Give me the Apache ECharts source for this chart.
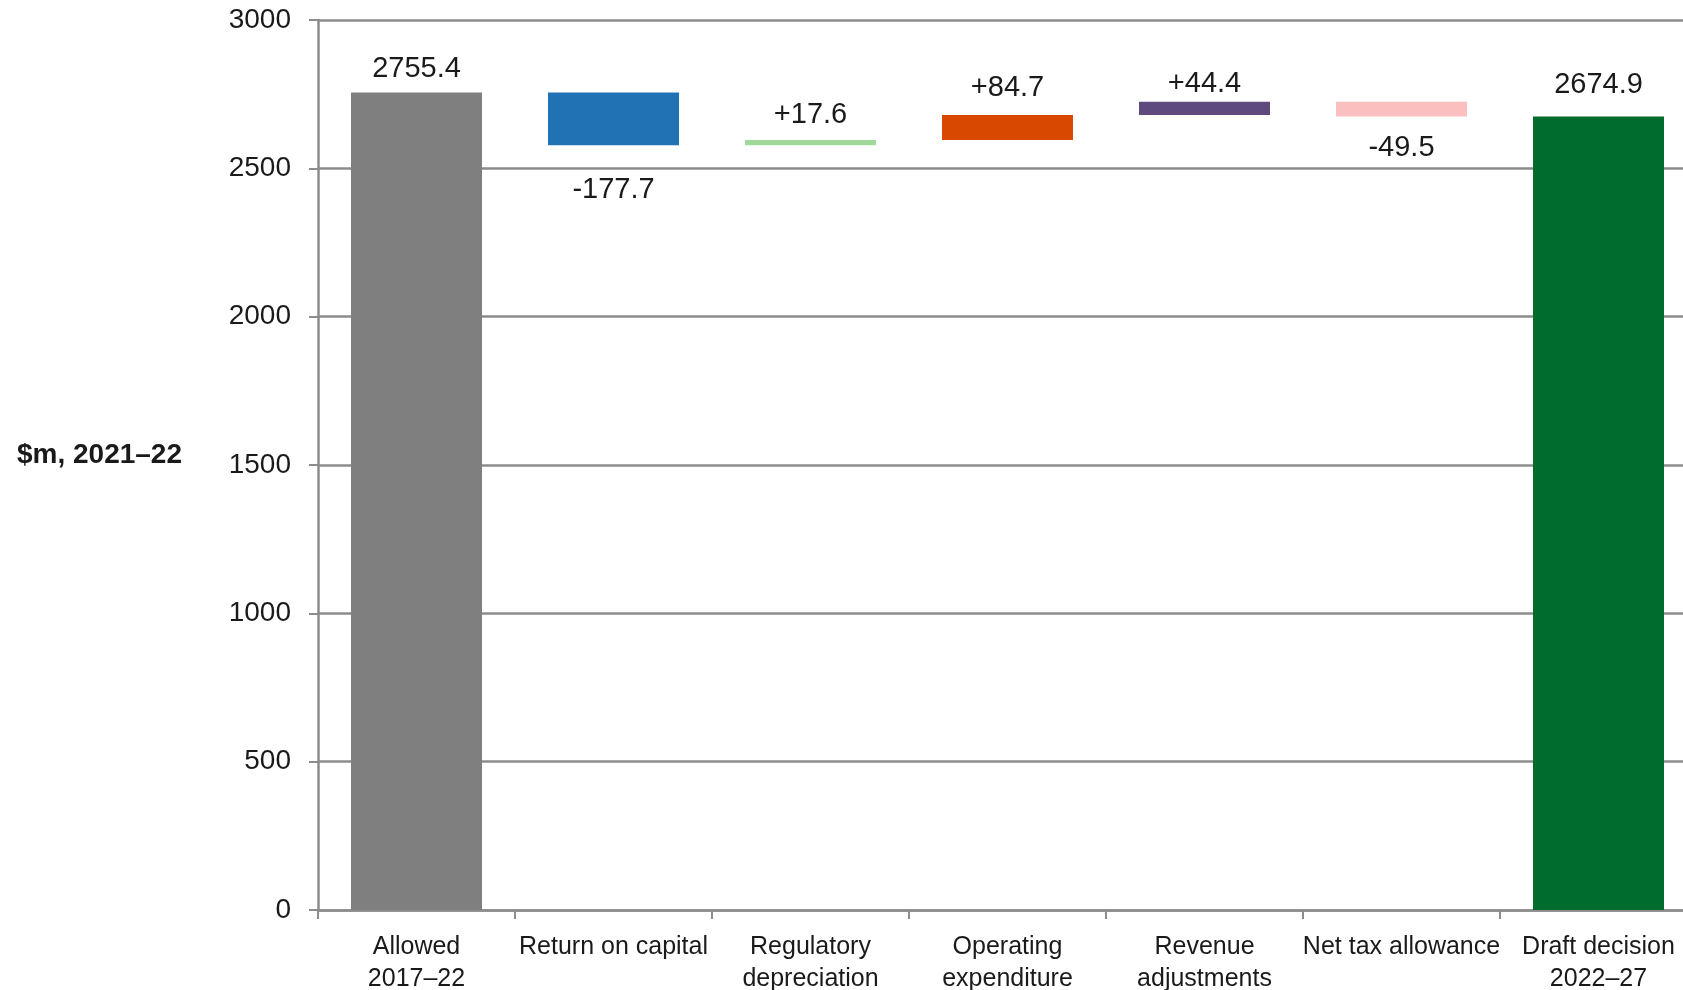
<!DOCTYPE html>
<html>
<head>
<meta charset="utf-8">
<script src="https://cdn.jsdelivr.net/npm/echarts@6/dist/echarts.min.js"></script>
<style>
  html, body { margin: 0; padding: 0; background: #ffffff; overflow: hidden; }
  #chart { width: 1700px; height: 990px; }
</style>
</head>
<body>
<div id="chart"></div>
<script>
// ---- Data ----
const categories = [
  'Allowed\n2017–22',
  'Return on capital',
  'Regulatory\ndepreciation',
  'Operating\nexpenditure',
  'Revenue\nadjustments',
  'Net tax allowance',
  'Draft decision\n2022–27'
];
const startTotal = 2755.4;
const changes = [-177.7, 17.6, 84.7, 44.4, -49.5];
const endTotal = 2674.9;
const yMin = 0, yMax = 3000, yStep = 500;
const yAxisTitle = '$m, 2021–22';

// ---- Styles (kept apart from the data) ----
const barColors = ['#7f7f7f', '#2171b5', '#a1d99b', '#d94801', '#5f4a7d', '#fcbfc0', '#006d2c'];
const labelDistances = [9, 30, 11, 12, 3, 17, 17];

// ---- Build waterfall pieces from the values ----
const baseVals = [0];
const sizeVals = [startTotal];
const labelTexts = [startTotal.toFixed(1)];
const isDown = [false];
let running = startTotal;
changes.forEach(function (c) {
  const next = running + c;
  baseVals.push(Math.min(running, next));
  sizeVals.push(Math.abs(c));
  labelTexts.push((c > 0 ? '+' : '') + c.toFixed(1));
  isDown.push(c < 0);
  running = next;
});
baseVals.push(0);
sizeVals.push(endTotal);
labelTexts.push(endTotal.toFixed(1));
isDown.push(false);

const gridColor = '#8c8c8c';
const fontFam = '"Liberation Sans", Arial, sans-serif';

const chart = echarts.init(document.getElementById('chart'), null, { renderer: 'canvas' });
chart.setOption({
  animation: false,
  backgroundColor: '#ffffff',
  grid: { left: 318, right: 3, top: 20, bottom: 80, containLabel: false, outerBoundsMode: 'none' },
  xAxis: {
    type: 'category',
    data: categories,
    boundaryGap: true,
    axisLine: { show: true, lineStyle: { color: gridColor, width: 2.5 } },
    axisTick: { show: true, length: 9, lineStyle: { color: gridColor, width: 2 } },
    axisLabel: {
      interval: 0,
      margin: 21,
      color: '#1a1a1a',
      fontFamily: fontFam,
      fontSize: 25,
      lineHeight: 32
    },
    splitLine: { show: false }
  },
  yAxis: {
    type: 'value',
    min: yMin,
    max: yMax,
    interval: yStep,
    name: yAxisTitle,
    nameLocation: 'middle',
    nameRotate: 0,
    nameGap: 136,
    nameTextStyle: {
      color: '#1a1a1a',
      fontFamily: fontFam,
      fontSize: 28,
      fontWeight: 'bold',
      verticalAlign: 'bottom',
      lineHeight: 20
    },
    axisLine: { show: true, lineStyle: { color: gridColor, width: 2.5 } },
    axisTick: { show: true, length: 9, lineStyle: { color: gridColor, width: 2 } },
    axisLabel: {
      margin: 27,
      color: '#1a1a1a',
      fontFamily: fontFam,
      fontSize: 28,
      formatter: function (v) { return String(v); }
    },
    splitLine: { show: true, lineStyle: { color: gridColor, width: 2.5 } }
  },
  series: [
    {
      name: 'base',
      type: 'bar',
      stack: 'wf',
      barCategoryGap: '33.5%',
      silent: true,
      itemStyle: { color: 'transparent' },
      data: baseVals
    },
    {
      name: 'value',
      type: 'bar',
      stack: 'wf',
      barCategoryGap: '33.5%',
      data: sizeVals.map(function (v, i) {
        return {
          value: v,
          itemStyle: { color: barColors[i] },
          label: {
            show: true,
            position: isDown[i] ? 'bottom' : 'top',
            distance: labelDistances[i],
            formatter: labelTexts[i],
            color: '#1a1a1a',
            fontFamily: fontFam,
            fontSize: 29
          }
        };
      })
    }
  ]
});
</script>
</body>
</html>
